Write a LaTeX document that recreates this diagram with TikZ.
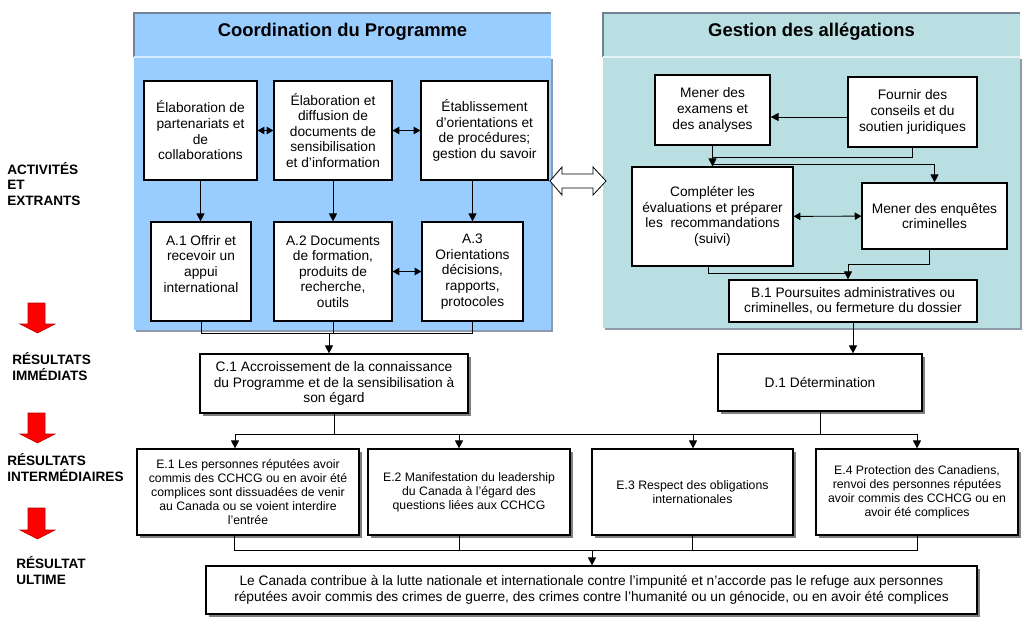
\documentclass[tikz,border=0pt]{standalone}
\usepackage{fontspec}
\setmainfont{Liberation Sans}
\usetikzlibrary{arrows.meta,calc,shadows}
\newcommand{\fa}{\fontsize{10.3}{11.7}\selectfont}
\newcommand{\fb}{\fontsize{9.2}{10.5}\selectfont}
\newcommand{\fc}{\fontsize{10.2}{11.4}\selectfont\bfseries}
\begin{document}
\begin{tikzpicture}[x=0.75pt,y=-0.75pt,
  wh/.style 2 args={minimum width=#1*0.75pt, minimum height=#2*0.75pt},
  box/.style={draw, line width=0.9pt, fill=white, align=center, inner sep=0pt, font=\fa},
  sbox/.style={box, drop shadow={shadow xshift=2.2pt, shadow yshift=-2.2pt, fill=black!50, opacity=1}},
  arr/.style={line width=0.7pt, -{Triangle[length=6pt,width=6pt]}},
  dbl/.style={line width=0.7pt, {Triangle[length=5pt,width=5.5pt]}-{Triangle[length=5pt,width=5.5pt]}},
  ln/.style={line width=0.7pt},
  title/.style={font=\fontsize{13.8}{16}\selectfont\bfseries, inner sep=0pt},
  lab/.style={font=\fc, align=left, anchor=base west, inner sep=0pt},
  redarr/.style={fill=red, draw=red!70!black, line width=0.4pt}
]
\useasboundingbox (0,0) rectangle (1030,626);
\definecolor{pblue}{RGB}{153,204,255}
\definecolor{pteal}{RGB}{185,223,227}
\definecolor{pedge}{RGB}{112,130,150}

% ---------- panels ----------
\fill[pedge!80] (136,59) rectangle (553,332);
\fill[pblue] (134,13) rectangle (551,330);
\draw[pedge, line width=1.2pt] (134,57) -- (134,13) -- (551,13);
\draw[white!60!pblue, line width=1.2pt] (134,57) -- (551,57);
\node[title] (t1) at (342.5,32) {Coordination du Programme};

\fill[pedge!80] (605,59) rectangle (1022,330);
\fill[pteal] (603,13) rectangle (1020,328);
\draw[pedge, line width=1.2pt] (603,57) -- (603,13) -- (1020,13);
\draw[white!60!pteal, line width=1.2pt] (603,57) -- (1020,57);
\node[title] (t2) at (811.5,32) {Gestion des allégations};

% ---------- left panel boxes ----------
\node[box, wh={113}{99}] (b1) at (200.5,130.5) {Élaboration de\\partenariats et\\de\\collaborations};
\node[box, wh={118}{99}] (b2) at (333,130.5) {Élaboration et\\diffusion de\\documents de\\sensibilisation\\et d’information};
\node[box, wh={127}{99}] (b3) at (484.5,130.5) {Établissement\\d’orientations et\\de procédures;\\gestion du savoir};
\node[box, wh={100}{99}] (a1) at (201,271.5) {A.1 Offrir et\\recevoir un\\appui\\international\\\mbox{}};
\node[box, wh={118}{99}] (a2) at (333,271.5) {A.2 Documents\\de formation,\\produits de\\recherche,\\outils};
\node[box, wh={101}{99}] (a3) at (472.5,271.5) {A.3\\Orientations\\décisions,\\rapports,\\protocoles};

\draw[dbl] (b1) -- (b2);
\draw[dbl] (b2) -- (b3);
\draw[dbl] (a2) -- (a3);
\draw[arr] (b1.south) -- (b1.south |- a1.north);
\draw[arr] (b2.south) -- (a2.north);
\draw[arr] (a3.north |- b3.south) -- (a3.north);

% ---------- right panel boxes ----------
\node[box, wh={115}{70}] (m) at (712.5,110) {Mener des\\examens et\\des analyses};
\node[box, wh={129}{70}] (f) at (912.5,112) {Fournir des\\conseils et du\\soutien juridiques};
\node[box, wh={161}{99}] (comp) at (712.5,216.5) {Compléter les\\évaluations et préparer\\les\ \ recommandations\\(suivi)};
\node[box, wh={145}{66}] (enq) at (934.5,216) {Mener des enquêtes\\criminelles};
\node[box, wh={248}{42}] (br) at (853,301) {B.1 Poursuites administratives ou\\criminelles, ou fermeture du dossier};

\coordinate (ry) at (0,117);
\coordinate (j1) at (712.5,157);
\coordinate (j2) at (712.5,164);
\coordinate (jb1) at (848,273);
\coordinate (jb2) at (848,264);
\draw[arr] (f.west |- ry) -- (m.east |- ry);
\draw[arr] (m.south) -- (comp.north);
\draw[ln] (f.south) |- (j1);
\draw[arr] (j2) -| (enq.north);
\draw[dbl] (comp) -- (enq);
\draw[ln] ($(comp.south)+(-4.5,0)$) |- (jb1);
\draw[ln] ($(enq.south)+(-5.5,0)$) |- (jb2);
\draw[arr] (jb2) -- (jb2 |- br.north);

% ---------- double hollow arrow ----------
\draw[fill=white, line width=0.6pt] (550,181) -- (562,167) -- (562,174) -- (593,174) -- (593,167) -- (606,181) -- (593,195) -- (593,188) -- (562,188) -- (562,195) -- cycle;

% ---------- immediate results ----------
\node[sbox, wh={268}{59}] (c1) at (334,383.5) {C.1 Accroissement de la connaissance\\du Programme et de la sensibilisation à\\son égard};
\node[sbox, wh={204}{57}] (d1) at (820,382.5) {D.1 Détermination};

\coordinate (cj) at (329,333);
\draw[ln] (a1.south) |- (cj) -| (a3.south);
\draw[ln] (a2.south) -- (a2.south |- cj);
\draw[arr] (cj) -- (cj |- c1.north);
\draw[arr] (br.south) -- (br.south |- d1.north);

% ---------- intermediate results ----------
\node[sbox, wh={222}{86}, font=\fb] (e1) at (248,492) {E.1 Les personnes réputées avoir\\commis des CCHCG ou en avoir été\\complices sont dissuadées de venir\\au Canada ou se voient interdire\\l’entrée};
\node[sbox, wh={202}{86}, font=\fb] (e2) at (469,492) {E.2 Manifestation du leadership\\du Canada à l’égard des\\questions liées aux CCHCG};
\node[sbox, wh={201}{86}, font=\fb] (e3) at (692.5,492) {E.3 Respect des obligations\\internationales};
\node[sbox, wh={202}{86}, font=\fb] (e4) at (917,492) {E.4 Protection des Canadiens,\\renvoi des personnes réputées\\avoir commis des CCHCG ou en\\avoir été complices};

\coordinate (ej1) at (235,434);
\coordinate (ej2) at (459,434);
\coordinate (ej3) at (693,434);
\coordinate (ej4) at (917,434);
\draw[ln] (c1.south) -- (c1.south |- ej1);
\draw[ln] (d1.south) -- (d1.south |- ej1);
\draw[ln] (ej1) -- (ej4);
\draw[arr] (ej1) -- (ej1 |- e1.north);
\draw[arr] (ej2) -- (ej2 |- e2.north);
\draw[arr] (ej3) -- (ej3 |- e3.north);
\draw[arr] (ej4) -- (e4.north);

% ---------- ultimate ----------
\node[sbox, wh={771}{48}] (u) at (591.5,590) {Le Canada contribue à la lutte nationale et internationale contre l’impunité et n’accorde pas le refuge aux personnes\\réputées avoir commis des crimes de guerre, des crimes contre l’humanité ou un génocide, ou en avoir été complices};

\coordinate (uj1) at (234,550);
\coordinate (uj2) at (459,550);
\coordinate (uj4) at (917,550);
\coordinate (ujm) at (592,550);
\draw[ln] (uj1 |- e1.south) -- (uj1) -- (uj4) -- (uj4 |- e4.south);
\draw[ln] (uj2 |- e2.south) -- (uj2);
\draw[ln] (e3.south) -- (e3.south |- uj1);
\draw[arr] (ujm) -- (ujm |- u.north);

% ---------- left labels ----------
\node[lab] (l1) at (7,205) {ACTIVITÉS\\ET\\EXTRANTS};
\node[lab] (l2) at (12,380) {RÉSULTATS\\IMMÉDIATS};
\node[lab] (l3) at (7,481) {RÉSULTATS\\INTERMÉDIAIRES};
\node[lab] (l4) at (16,584) {RÉSULTAT\\ULTIME};

\draw[redarr] (28,303) -- (45,303) -- (45,324) -- (55,324) -- (37.5,333) -- (20,324) -- (28,324) -- cycle;
\draw[redarr] (28,413) -- (45,413) -- (45,434) -- (55,434) -- (37.5,443) -- (20,434) -- (28,434) -- cycle;
\draw[redarr] (28,508) -- (45,508) -- (45,530) -- (55,530) -- (37.5,539) -- (20,530) -- (28,530) -- cycle;
\end{tikzpicture}
\end{document}
